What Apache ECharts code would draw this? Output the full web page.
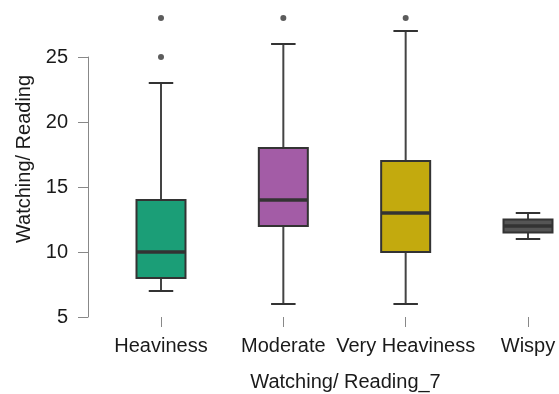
<!DOCTYPE html>
<html>
<head>
<meta charset="utf-8">
<script src="https://cdn.jsdelivr.net/npm/echarts@6/dist/echarts.min.js"></script>
<style>html,body{margin:0;padding:0;background:#fff}#c{width:559px;height:394px}</style>
</head>
<body>
<div id="c"></div>
<script>
var categories = ['Heaviness', 'Moderate', 'Very Heaviness', 'Wispy'];
var lowWhisker = [7, 6, 6, 11];
var q1 = [8, 12, 10, 11.5];
var median = [10, 14, 13, 12];
var q3 = [14, 18, 17, 12.5];
var highWhisker = [23, 26, 27, 13];
var outlierCat = [0, 0, 1, 2];
var outlierVal = [25, 28, 28, 28];
var colors = ['#1b9e77', '#a35ca6', '#c3aa0e', '#555555'];
var yTicks = [5, 10, 15, 20, 25];

var positions = categories.map(function (c, i) { return i + 1; });
var boxData = categories.map(function (c, i) {
  return [positions[i], lowWhisker[i], q1[i], median[i], q3[i], highWhisker[i], i];
});
var outlierData = outlierCat.map(function (c, k) { return [positions[c], outlierVal[k]]; });

var chart = echarts.init(document.getElementById('c'), null, {renderer: 'canvas'});
var font = 'Liberation Sans, Arial, sans-serif';
var edge = '#333333';
var textColor = '#1a1a1a';

chart.setOption({
  animation: false,
  grid: {left: 88, right: 0, top: 57, bottom: 77, outerBoundsMode: 'none', containLabel: false},
  xAxis: {
    type: 'value',
    min: 0.4033, max: 4.2534,
    axisLine: {show: false},
    axisTick: {show: true, customValues: positions, length: 10, lineStyle: {color: '#888', width: 1}},
    axisLabel: {
      customValues: positions, margin: 19, fontFamily: font, fontSize: 20, color: textColor,
      formatter: function (v) { return categories[Math.round(v) - 1]; }
    },
    name: 'Watching/ Reading_7',
    nameLocation: 'middle',
    nameGap: 55,
    nameTextStyle: {fontFamily: font, fontSize: 20, color: textColor, padding: [0, 0, 0, 44]},
    splitLine: {show: false}
  },
  yAxis: {
    type: 'value',
    min: 5, max: 25, interval: 5,
    axisLine: {show: true, lineStyle: {color: '#888', width: 1}},
    axisTick: {show: true, length: 10, lineStyle: {color: '#888', width: 1}},
    axisLabel: {margin: 20, fontFamily: font, fontSize: 20, color: textColor,
      customValues: yTicks},
    splitLine: {show: false},
    name: 'Watching/ Reading',
    nameLocation: 'middle',
    nameGap: 54,
    nameRotate: 90,
    nameTextStyle: {fontFamily: font, fontSize: 20, color: textColor, padding: [0, 0, 0, 56]}
  },
  series: [
    {
      type: 'custom',
      clip: false,
      data: boxData,
      encode: {x: 0, y: [1, 2, 3, 4, 5]},
      renderItem: function (params, api) {
        var idx = api.value(6);
        var p = api.value(0);
        var bw = 49, cw = 24.5;
        var lo = api.coord([p, api.value(1)]);
        var b1 = api.coord([p, api.value(2)]);
        var md = api.coord([p, api.value(3)]);
        var b3 = api.coord([p, api.value(4)]);
        var hi = api.coord([p, api.value(5)]);
        var x = lo[0];
        var ws = {stroke: '#444', lineWidth: 2};
        var cs = {stroke: edge, lineWidth: 2};
        return {
          type: 'group',
          children: [
            {type: 'line', shape: {x1: x, y1: hi[1], x2: x, y2: b3[1]}, style: ws},
            {type: 'line', shape: {x1: x, y1: b1[1], x2: x, y2: lo[1]}, style: ws},
            {type: 'line', shape: {x1: x - cw / 2, y1: hi[1], x2: x + cw / 2, y2: hi[1]}, style: cs},
            {type: 'line', shape: {x1: x - cw / 2, y1: lo[1], x2: x + cw / 2, y2: lo[1]}, style: cs},
            {type: 'rect', shape: {x: x - bw / 2, y: b3[1], width: bw, height: b1[1] - b3[1]},
             style: {fill: colors[idx], stroke: edge, lineWidth: 2}},
            {type: 'line', shape: {x1: x - bw / 2, y1: md[1], x2: x + bw / 2, y2: md[1]},
             style: {stroke: edge, lineWidth: 3.5}}
          ]
        };
      }
    },
    {
      type: 'scatter',
      data: outlierData,
      symbol: 'circle',
      symbolSize: 6,
      itemStyle: {color: '#333333'},
      clip: false
    }
  ]
});
</script>
</body>
</html>
